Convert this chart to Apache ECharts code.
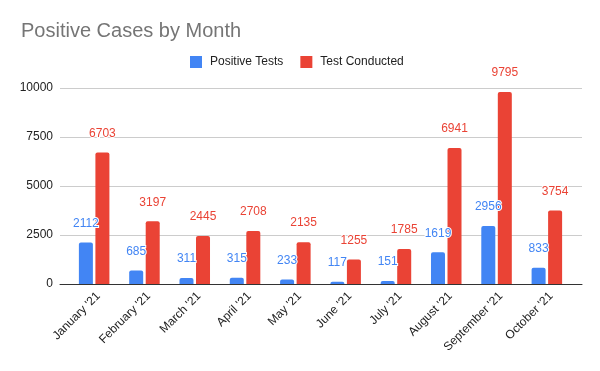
<!DOCTYPE html>
<html><head><meta charset="utf-8">
<script src="https://cdn.jsdelivr.net/npm/echarts@6/dist/echarts.min.js"></script>
<style>html,body{margin:0;padding:0;background:#fff}#c{width:600px;height:371px}</style>
</head><body><div id="c"></div>
<script>
var categories = ["January '21","February '21","March '21","April '21","May '21","June '21","July '21","August '21","September '21","October '21"];
var positiveTests = [2112, 685, 311, 315, 233, 117, 151, 1619, 2956, 833];
var testsConducted = [6703, 3197, 2445, 2708, 2135, 1255, 1785, 6941, 9795, 3754];
var yTicks = [0, 2500, 5000, 7500, 10000];

var FONT = '"Liberation Sans", Arial, sans-serif';
var BLUE = '#4285F4', RED = '#EA4335';
var chart = echarts.init(document.getElementById('c'), null, {renderer: 'canvas'});
function lbl(color){
  return {show: true, position: 'top', distance: 13, color: color, fontSize: 12, fontFamily: FONT,
    textBorderColor: '#fff', textBorderWidth: 2};
}
chart.setOption({
  animation: false,
  backgroundColor: '#fff',
  title: {text: 'Positive Cases by Month', left: 16, top: 16,
    textStyle: {fontFamily: FONT, fontSize: 20, fontWeight: 'normal', color: '#757575'}},
  legend: {left: 185, top: 51, itemWidth: 12, itemHeight: 12, itemGap: 17,
    icon: 'rect',
    textStyle: {fontFamily: FONT, fontSize: 12, color: '#222', padding: [0, 0, 0, 3]},
    data: ['Positive Tests', 'Test Conducted']},
  grid: [
    {left: 69, right: 28, top: 88, height: 196},
    {left: 60, right: 18, top: 88, height: 196}
  ],
  xAxis: [
    {type: 'category', gridIndex: 0, data: categories,
      axisLine: {show: false}, axisTick: {show: false},
      axisLabel: {rotate: 45, fontFamily: FONT, fontSize: 12, color: '#222', margin: 6, interval: 0, verticalAlign: 'top'}},
    {type: 'value', gridIndex: 1, min: 0, max: 1, show: true,
      axisLine: {show: true, onZero: false, lineStyle: {color: '#333', width: 1}},
      axisTick: {show: false}, axisLabel: {show: false}, splitLine: {show: false}}
  ],
  yAxis: [
    {type: 'value', gridIndex: 0, min: 0, max: 10000, interval: 2500, show: false, splitLine: {show: false}},
    {type: 'value', gridIndex: 1, min: yTicks[0], max: yTicks[yTicks.length-1], interval: 2500,
      axisLine: {show: false}, axisTick: {show: false},
      axisLabel: {fontFamily: FONT, fontSize: 12, color: '#222', margin: 7, formatter: function(v){ return String(v); }},
      splitLine: {show: true, lineStyle: {color: '#ccc', width: 1}}}
  ],
  series: [
    {name: 'Positive Tests', type: 'bar', xAxisIndex: 0, yAxisIndex: 0, data: positiveTests,
      barWidth: 14, barGap: '18%', itemStyle: {color: BLUE, borderRadius: [2,2,0,0]}, label: lbl(BLUE), z: 3},
    {name: 'Test Conducted', type: 'bar', xAxisIndex: 0, yAxisIndex: 0, data: testsConducted,
      barWidth: 14, barGap: '18%', itemStyle: {color: RED, borderRadius: [2,2,0,0]}, label: lbl(RED), z: 3}
  ]
});
</script></body></html>
